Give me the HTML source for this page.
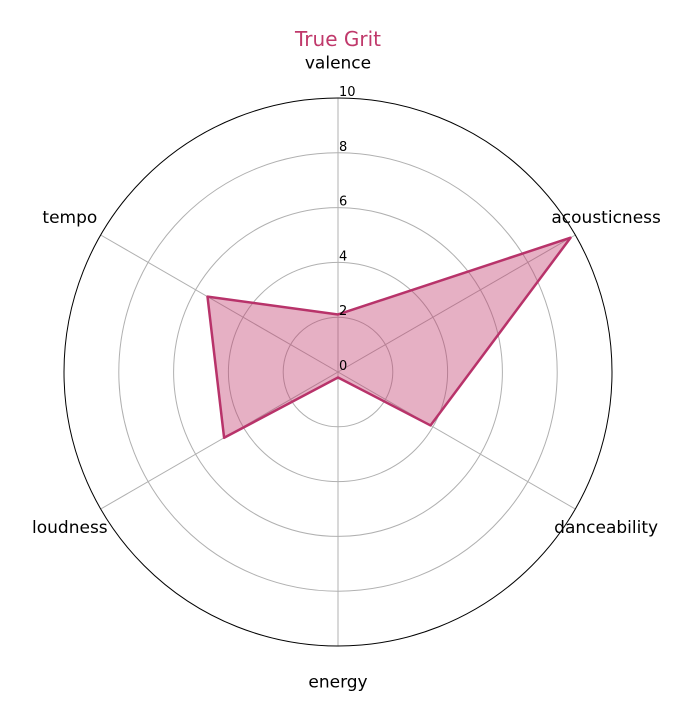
<!DOCTYPE html>
<html><head><meta charset="utf-8"><style>
body{margin:0;background:#fff;}
svg{display:block;font-family:"DejaVu Sans","Liberation Sans",sans-serif;}
</style></head><body>
<svg id="chart" width="693" height="721" viewBox="0 0 693 721">
<text x="338" y="46" text-anchor="middle" font-size="20" fill="#c0396b">True Grit</text>
<g id="grid"></g><g id="series"></g><g id="labels"></g>
</svg>
<script>
const categories=["valence","acousticness","danceability","energy","loudness","tempo"];
const values=[2.1,9.8,3.9,0.2,4.8,5.5];
const ticks=[0,2,4,6,8,10];
const cx=338,cy=372,R=274,maxV=10;
const ns="http://www.w3.org/2000/svg";
function rScale(v){return v/maxV*R;}
function angle(i){return Math.PI/2-i*2*Math.PI/categories.length;}
function pt(i,v){const a=angle(i),r=rScale(v);return [cx+r*Math.cos(a),cy-r*Math.sin(a)];}
function mk(tag,attrs,parent){const e=document.createElementNS(ns,tag);for(const k in attrs)e.setAttribute(k,attrs[k]);parent.appendChild(e);return e;}
const grid=document.getElementById('grid'),ser=document.getElementById('series'),lab=document.getElementById('labels');
ticks.forEach(t=>{if(t===0||t===maxV)return;const c=mk('circle',{cx:cx,cy:cy,r:rScale(t),fill:'none',stroke:'#b0b0b0','stroke-width':1},grid);

});
categories.forEach((c,i)=>{const p=pt(i,maxV);const l=mk('line',{x1:cx,y1:cy,x2:p[0],y2:p[1],stroke:'#b0b0b0','stroke-width':1},grid);


const lp=pt(i,maxV*1.13);const t=mk('text',{x:lp[0],y:lp[1]+6,'text-anchor':'middle','font-size':17,fill:'#000'},lab);
t.textContent=c;

});
const outer=mk('circle',{cx:cx,cy:cy,r:R,fill:'none',stroke:'#000','stroke-width':1},grid);


ticks.forEach(t=>{const tx=mk('text',{x:cx+1,y:cy-rScale(t)-2,'font-size':13,fill:'#000'},lab);
tx.textContent=t;

});
const pts=values.map((v,i)=>pt(i,v).join(',')).join(' ');
const poly=mk('polygon',{points:pts,fill:'#c0396b','fill-opacity':0.4,stroke:'#b8336a','stroke-width':2.5,'stroke-linejoin':'round'},ser);


</script>
</body></html>
